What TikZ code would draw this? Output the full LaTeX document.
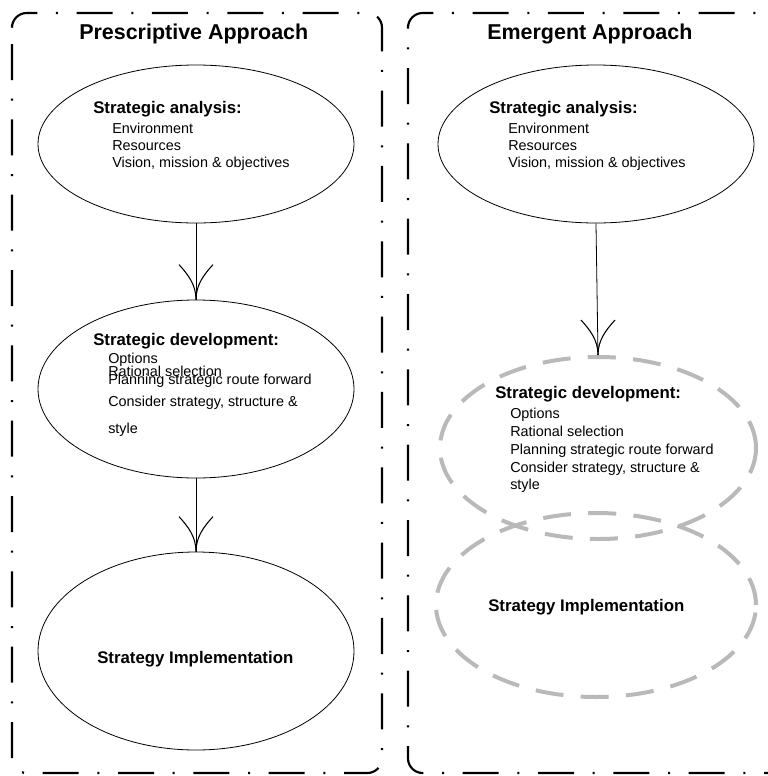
\documentclass[tikz,border=0pt]{standalone}
\usepackage{fontspec}
\setmainfont{Liberation Sans}
\usetikzlibrary{shapes.geometric}
\definecolor{dashgray}{RGB}{185,185,185}
\tikzset{
  panel/.style={line width=1.6pt, rounded corners=11pt, dash pattern=on 27pt off 14pt on 1.5pt off 14pt},
  oval/.style={ellipse, draw, line width=0.6pt, inner sep=0pt},
  dashoval/.style={ellipse, draw=dashgray, line width=3pt, dash pattern=on 21pt off 13pt, inner sep=0pt},
  title/.style={anchor=base west, inner sep=0pt, font=\fontsize{16.1}{19}\selectfont\bfseries},
  head/.style={anchor=base west, inner sep=0pt, font=\fontsize{12.6}{15}\selectfont\bfseries},
  item/.style={anchor=base west, inner sep=0pt, font=\fontsize{10.8}{13}\selectfont},
  link/.style={line width=0.6pt},
  barbs/.pic={
    \draw[line width=0.8pt] (0,0) .. controls (0,-15) and (8,-25) .. (17,-35);
    \draw[line width=0.8pt] (0,0) .. controls (0,-15) and (-8,-25) .. (-17,-35);
  }
}
\begin{document}
\begin{tikzpicture}[x=0.75pt, y=-0.75pt]
\useasboundingbox (0,0) rectangle (768,776);
\clip (0,0) rectangle (768,776);

% panels
\draw[panel] (12,40) -- (12,13) -- (382,13) -- (382,773) -- (12,773) -- cycle;
\draw[panel] (408,40) -- (408,13) -- (790,13) -- (790,773) -- (408,773) -- cycle;

% titles
\node[title] (tL) at (79,39) {Prescriptive Approach};
\node[title] (tR) at (487,39) {Emergent Approach};

% left column ellipses
\node[oval, minimum width=237pt, minimum height=118.5pt] (L1) at (196,144) {};
\node[oval, minimum width=237pt, minimum height=133.5pt] (L2) at (196,389) {};
\node[oval, minimum width=237pt, minimum height=148.5pt] (L3) at (196,651) {};

% right column ellipses
\node[oval, minimum width=237pt, minimum height=118.5pt] (R1) at (596,144) {};
\node[dashoval, minimum width=237pt, minimum height=136.5pt] (R2) at (598,448) {};
\node[dashoval, minimum width=240pt, minimum height=138pt] (R3) at (596,605) {};

% connectors
\draw[link] (L1.south) -- (L2.north);
\pic at (L2.north) {barbs};
\draw[link] (L2.south) -- (L3.north);
\pic at (L3.north) {barbs};
\draw[link] (R1.south) -- (R2.north);
\pic at (R2.north) {barbs};

% left texts
\node[head] (L1h) at (93,113) {Strategic analysis:};
\node[item] (L1a) at (112,133) {Environment};
\node[item] (L1b) at (112,150) {Resources};
\node[item] (L1c) at (112,167) {Vision, mission \& objectives};

\node[head] (L2h) at (93,345) {Strategic development:};
\node[item] (L2a) at (108,363) {Options};
\node[item] (L2b) at (108,376) {Rational selection};
\node[item] (L2c) at (108,384) {Planning strategic route forward};
\node[item] (L2d) at (108,406) {Consider strategy, structure \&};
\node[item] (L2e) at (108,433) {style};

\node[head] (L3h) at (97,663) {Strategy Implementation};

% right texts
\node[head] (R1h) at (489,113) {Strategic analysis:};
\node[item] (R1a) at (508,133) {Environment};
\node[item] (R1b) at (508,150) {Resources};
\node[item] (R1c) at (508,167) {Vision, mission \& objectives};

\node[head] (R2h) at (495,398) {Strategic development:};
\node[item] (R2a) at (510,418) {Options};
\node[item] (R2b) at (510,436) {Rational selection};
\node[item] (R2c) at (510,454) {Planning strategic route forward};
\node[item] (R2d) at (510,472) {Consider strategy, structure \&};
\node[item] (R2e) at (510,489) {style};

\node[head] (R3h) at (488,611) {Strategy Implementation};
\end{tikzpicture}
\end{document}
